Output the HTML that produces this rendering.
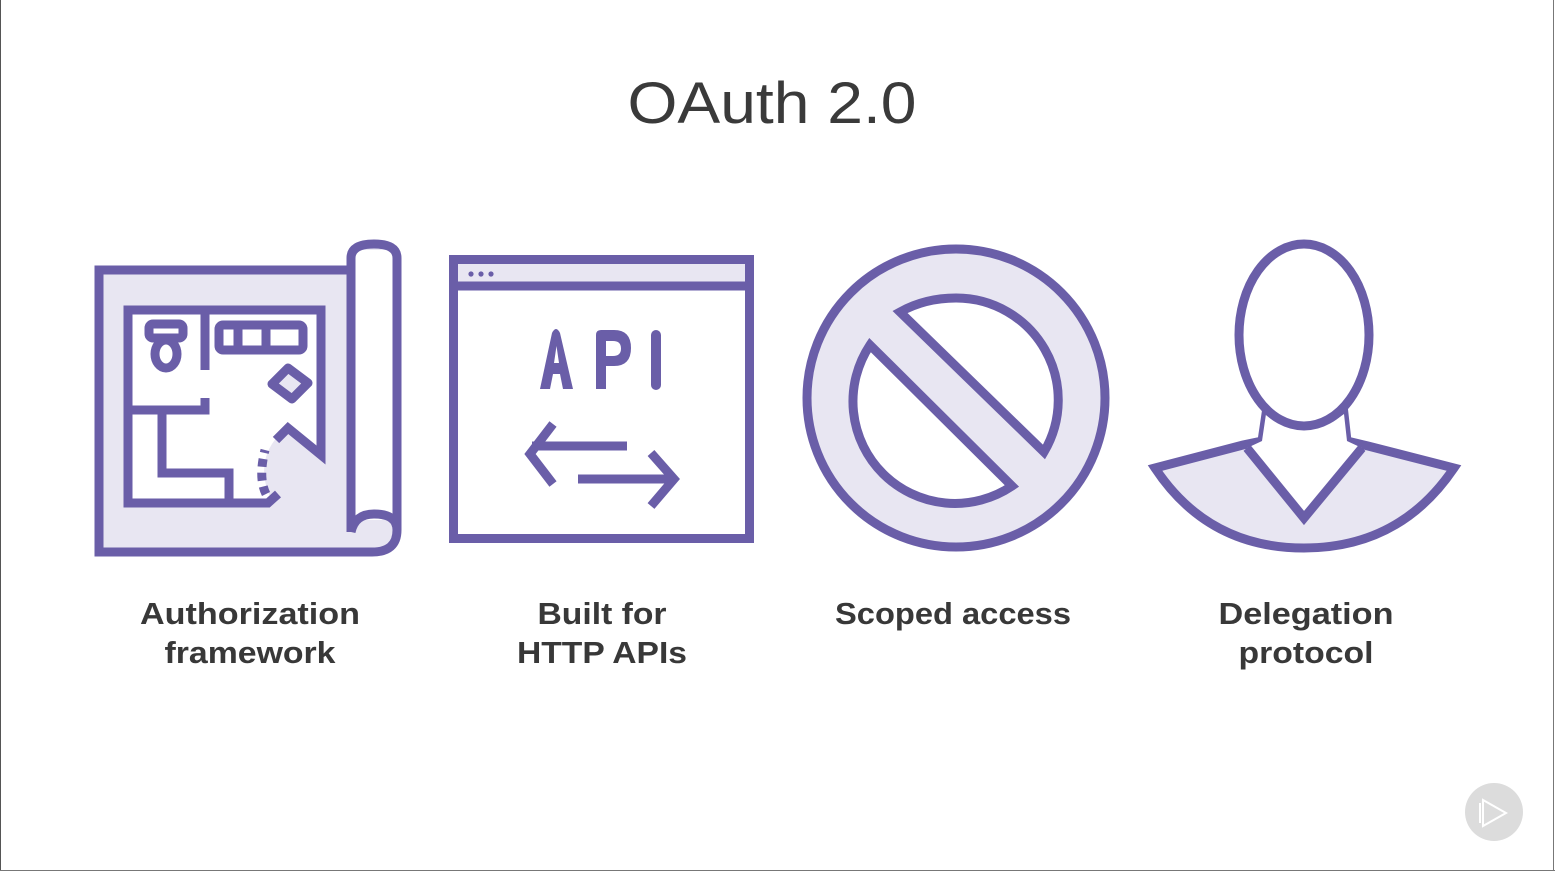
<!DOCTYPE html>
<html><head><meta charset="utf-8"><style>
html,body{margin:0;padding:0;background:#fff;}
svg{display:block;}
</style></head><body>
<svg width="1555" height="872" viewBox="0 0 1555 872" xmlns="http://www.w3.org/2000/svg">
<rect x="0" y="0" width="1555" height="872" fill="#fff"/>
<line x1="0.5" y1="0" x2="0.5" y2="871" stroke="#555" stroke-width="1"/>
<line x1="1553.5" y1="0" x2="1553.5" y2="871" stroke="#777" stroke-width="1"/>
<line x1="0" y1="870.5" x2="1555" y2="870.5" stroke="#777" stroke-width="1"/>

<text x="772" y="123" text-anchor="middle" font-family="Liberation Sans, sans-serif" font-size="58" fill="#3a3a3a" textLength="289" lengthAdjust="spacingAndGlyphs">OAuth 2.0</text>

<g fill="none" stroke="#6a5ea8" stroke-width="9" stroke-linejoin="miter">
<!-- Blueprint -->
<path d="M351 270 L99 270 L99 552 L372 552 Q397 552 397 530 L397 258 Q397 240 374 240 Q351 240 351 258 Z" fill="#e8e6f2" stroke="none"/>
<rect x="351" y="250" width="46" height="270" fill="#fff" stroke="none"/>
<path d="M128 310 L321 310 L321 455 L287 428 L278 436 Q255 462 270 497 L268 505 L128 505 Z" fill="#fff" stroke="none"/>
<path d="M351 270 L99 270 L99 552 L372 552 Q397 552 397 530"/>
<path d="M351 532 L351 258 Q351 244 374 244 Q397 244 397 258 L397 530 Q397 514 374 514 Q355 514 351 532"/>
<path d="M206 310 L321 310 L321 455 L288 428 L276 440"/>
<path d="M206 310 L128 310 L128 503 L268 503 L278 494"/>
<path d="M266 494 Q258 478 265 450" stroke-dasharray="8 6"/>
<path d="M205 310 L205 370 M205 398 L205 410 L128 410"/>
<path d="M162 410 L162 473 L229 473 L229 503"/>
<rect x="219" y="325" width="84" height="25" rx="4"/>
<path d="M238 329 L238 346 M266 329 L266 346" />
<rect x="149" y="324" width="34" height="14" rx="4"/>
<ellipse cx="166" cy="354" rx="11" ry="14"/>
<path d="M272 384 L288 368 L308 383 L292 399 Z" fill="#e8e6f2" stroke-linejoin="round"/>

<!-- API window -->
<rect x="453.5" y="259.5" width="296" height="279" fill="#fff"/>
<rect x="458" y="264" width="287" height="22" fill="#e8e6f2" stroke="none"/>
<line x1="453" y1="286" x2="750" y2="286"/>
<path d="M627 446 L532 446 M553 424 L530 454 L553 484"/>
<path d="M578 479 L672 479 M651 453 L674 479 L651 506"/>
<!-- Ban -->
<circle cx="956" cy="398" r="149" fill="#e8e6f2"/>
<path d="M900 312 Q925 298 956 298 A102 102 0 0 1 1044 452 Z" fill="#fff"/>
<path d="M870 345 A102 102 0 0 0 1012 486 Z" fill="#fff"/>
<!-- Person -->
<path d="M1155 468 L1243 445 L1262 441 L1266 414 Q1285 430 1304 430 Q1323 430 1344 414 L1347 441 L1368 446 L1454 468 Q1400 548 1304 548 Q1208 548 1155 468 Z" fill="#e8e6f2"/>
<path d="M1262 441 L1266 414 Q1285 430 1304 430 Q1323 430 1344 414 L1347 441 L1362 448 L1304 518 L1247 448 Z" fill="#fff" stroke="none"/>
<path d="M1247 448 L1304 518 L1362 448" fill="none"/>
<ellipse cx="1304" cy="335" rx="65" ry="91" fill="#fff"/>
</g>
<g fill="#6a5ea8">
<circle cx="471" cy="274" r="2.6"/><circle cx="481" cy="274" r="2.6"/><circle cx="491" cy="274" r="2.6"/>
<path d="M540 389 L552 333 Q556 325 560 333 L573 389 L563 389 L560 374 L553 374 L550 389 Z M554 363 L559 363 L556.5 346 Z"/>
<path d="M596 389 L596 335 Q596 330 601 330 L614 330 Q631 330 631 348 Q631 366 614 366 L606 366 L606 389 Z M606 341 L606 356 L613 356 Q621 356 621 348.5 Q621 341 613 341 Z"/>
<rect x="651" y="330" width="10" height="60" rx="5"/>
</g>

<g font-family="Liberation Sans, sans-serif" font-size="31" font-weight="bold" fill="#383838" text-anchor="middle">
<text x="250" y="624" textLength="220" lengthAdjust="spacingAndGlyphs">Authorization</text>
<text x="250" y="663" textLength="171" lengthAdjust="spacingAndGlyphs">framework</text>
<text x="602" y="624" textLength="129" lengthAdjust="spacingAndGlyphs">Built for</text>
<text x="602" y="663" textLength="170" lengthAdjust="spacingAndGlyphs">HTTP APIs</text>
<text x="953" y="624" textLength="236" lengthAdjust="spacingAndGlyphs">Scoped access</text>
<text x="1306" y="624" textLength="175" lengthAdjust="spacingAndGlyphs">Delegation</text>
<text x="1306" y="663" textLength="135" lengthAdjust="spacingAndGlyphs">protocol</text>
</g>

<circle cx="1494" cy="812" r="29" fill="#dcdcdc"/>
<path d="M1483 800 L1483 826 L1506 813 Z" fill="none" stroke="#fff" stroke-width="2"/>
<path d="M1480 803 L1480 823" stroke="#fff" stroke-width="2"/>
</svg>
</body></html>
